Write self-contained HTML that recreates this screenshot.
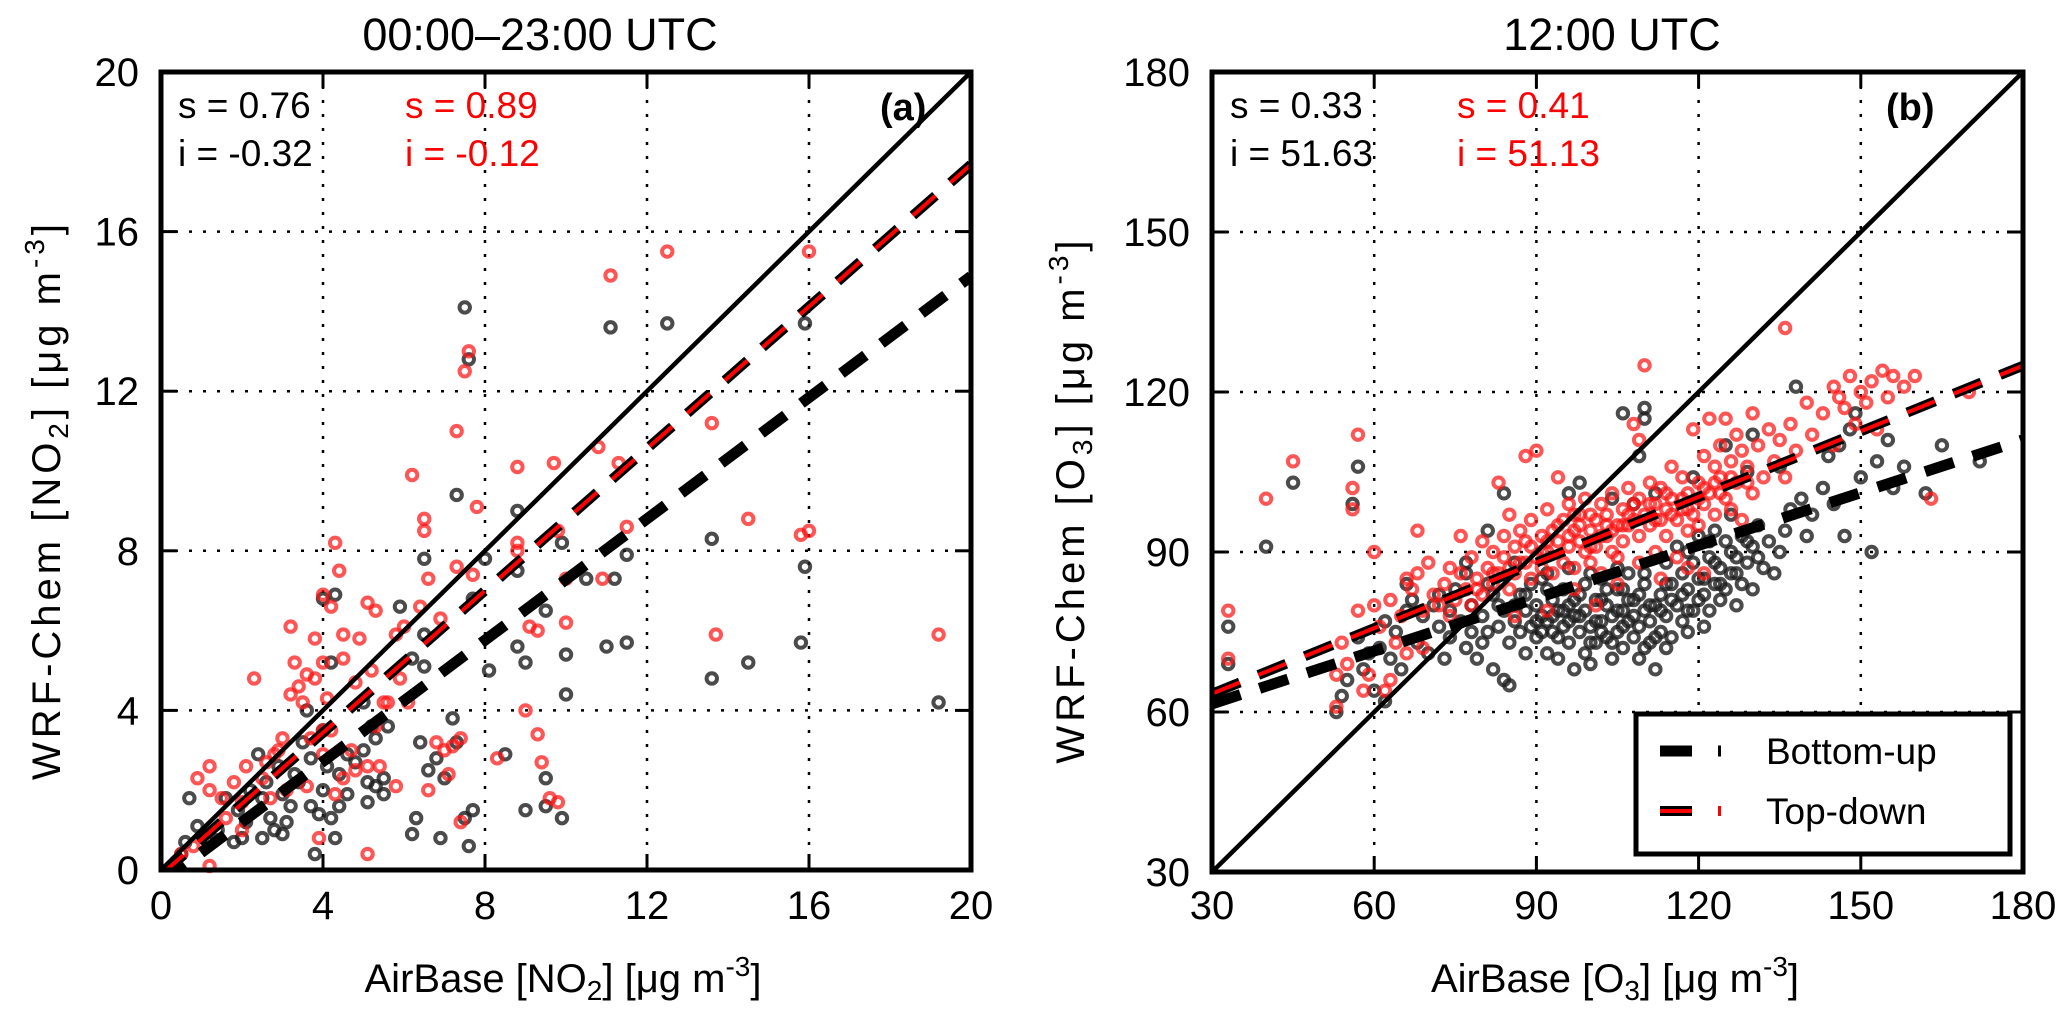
<!DOCTYPE html>
<html><head><meta charset="utf-8">
<style>
html,body{margin:0;padding:0;background:#fff;}
svg{display:block;font-family:"Liberation Sans",sans-serif;}
</style></head>
<body>
<svg id="chart" width="2067" height="1021" viewBox="0 0 2067 1021" xmlns="http://www.w3.org/2000/svg">
<defs>
<clipPath id="clipA"><rect x="161" y="72" width="810" height="798"/></clipPath>
<clipPath id="clipB"><rect x="1212" y="72" width="811" height="800"/></clipPath>
</defs>
<g id="panelA"></g>
<g id="panelB"></g>
</svg>
<script>
// ---- Panel (a) data: NO2 ----
const aTicks = [0, 4, 8, 12, 16, 20];
const aBottomUp = [[19.2,4.2],[15.9,7.6],[15.9,13.7],[15.8,5.7],[13.6,8.3],[13.6,4.8],[14.5,5.2],[12.5,13.7],[11.1,13.6],[11.5,7.9],[11.2,7.3],[11.5,5.7],[11.0,5.6],[10.5,7.3],[10.0,4.4],[10.0,5.4],[9.5,6.5],[9.9,8.2],[9.9,1.3],[9.5,2.3],[9.5,1.6],[9.0,1.5],[8.8,9.0],[8.8,7.5],[8.8,5.6],[9.0,5.2],[8.0,7.8],[8.1,5.0],[8.5,2.9],[7.6,12.8],[7.5,14.1],[7.3,9.4],[7.7,6.8],[7.7,1.5],[7.6,0.6],[7.5,1.3],[7.3,3.2],[7.2,3.8],[7.0,2.3],[6.9,0.8],[6.8,2.8],[6.6,2.5],[6.4,3.2],[6.5,7.8],[6.5,5.9],[6.5,5.1],[6.2,5.3],[6.3,1.3],[6.2,0.9],[5.9,6.6],[5.6,3.6],[5.5,2.3],[5.5,1.9],[5.3,2.1],[5.2,3.6],[5.1,2.2],[5.1,1.7],[5.0,4.2],[5.0,3.0],[4.8,2.7],[4.6,1.9],[4.4,2.4],[4.3,6.9],[4.2,5.2],[4.3,0.8],[4.2,1.3],[4.0,6.8],[4.0,3.5],[4.0,2.0],[3.9,1.4],[3.8,0.4],[3.7,2.8],[3.6,4.0],[3.5,3.2],[3.3,2.4],[3.2,1.6],[3.1,1.2],[3.0,0.9],[3.0,1.9],[2.9,2.6],[2.8,1.0],[2.7,1.3],[2.5,1.8],[2.5,0.8],[2.4,2.9],[2.2,2.0],[2.1,1.2],[2.0,0.8],[1.9,1.5],[1.8,0.7],[1.6,1.8],[1.4,1.0],[1.2,0.7],[0.9,1.1],[0.7,1.8],[0.6,0.7],[0.5,0.4],[4.6,2.9],[3.4,2.2],[2.6,2.2],[4.4,1.6],[5.3,3.3],[4.1,2.6],[3.7,1.6]];
const aTopDown = [[19.2,5.9],[16.0,15.5],[15.8,8.4],[16.0,8.5],[13.6,11.2],[13.7,5.9],[14.5,8.8],[12.5,15.5],[11.1,14.9],[11.3,10.2],[11.5,8.6],[10.9,7.3],[10.8,10.6],[10.0,6.2],[10.0,7.3],[9.8,8.5],[9.7,10.2],[9.8,1.7],[9.6,1.8],[9.4,2.7],[9.3,3.4],[9.0,4.0],[9.1,6.1],[9.3,6.0],[8.8,10.1],[8.8,8.2],[8.8,8.0],[8.3,2.8],[7.8,9.1],[7.7,7.4],[7.6,13.0],[7.5,12.5],[7.3,11.0],[7.3,7.6],[7.4,3.3],[7.2,3.1],[7.1,2.4],[7.0,3.0],[6.9,6.3],[6.6,7.3],[6.5,8.5],[6.5,8.8],[6.4,6.6],[6.2,9.9],[6.0,6.1],[5.8,5.9],[5.9,4.8],[5.6,4.2],[5.5,4.2],[5.4,2.6],[5.3,6.5],[5.1,6.7],[5.2,5.0],[4.9,5.8],[4.8,4.7],[4.5,5.9],[4.5,5.3],[4.4,7.5],[4.3,8.2],[4.2,6.6],[4.0,6.9],[4.0,5.2],[4.1,4.3],[4.0,3.5],[3.8,5.8],[3.8,4.8],[3.6,4.9],[3.4,4.6],[3.5,4.2],[3.3,5.2],[3.2,4.4],[3.2,6.1],[3.0,3.3],[2.8,2.9],[2.6,2.7],[2.5,2.3],[2.3,4.8],[2.1,2.6],[2.0,1.7],[1.8,2.2],[1.5,1.8],[1.2,2.0],[1.2,2.6],[0.9,2.3],[0.8,0.6],[0.5,0.4],[1.2,0.1],[5.1,0.4],[3.9,0.8],[4.8,2.5],[5.1,2.6],[4.5,2.3],[4.7,3.0],[3.1,2.0],[2.9,3.0],[3.7,3.3],[4.2,3.5],[6.1,4.2],[5.8,2.1],[6.6,2.0],[3.6,2.1],[2.7,1.8],[1.6,1.3],[2.0,1.0],[4.3,1.9],[6.8,3.2],[7.4,1.2],[5.3,3.6],[4.0,2.9]];
const aFitBottomUp = [0.76, -0.32];
const aFitTopDown = [0.89, -0.12];

// ---- Panel (b) data: O3 ----
const bTicks = [30, 60, 90, 120, 150, 180];
const bBottomUp = [[33,76],[33,69],[40,91],[45,103],[53,60],[54,63],[55,66],[56,99],[57,106],[57,74],[58,68],[59,71],[60,64],[61,72],[62,62],[62,77],[63,70],[64,75],[65,68],[66,79],[66,84],[67,81],[68,73],[69,78],[70,71],[71,80],[72,82],[72,76],[73,70],[74,74],[74,79],[75,83],[76,77],[77,72],[77,86],[78,80],[78,75],[79,70],[80,73],[80,78],[81,84],[81,75],[82,82],[82,68],[83,76],[83,80],[84,79],[84,66],[85,65],[85,73],[86,77],[86,88],[87,82],[87,75],[88,79],[88,71],[89,84],[89,76],[90,80],[90,74],[91,78],[91,85],[92,71],[92,77],[93,81],[93,75],[94,79],[94,70],[95,83],[95,76],[96,73],[96,80],[97,78],[97,68],[98,75],[98,82],[99,71],[99,79],[100,76],[100,69],[101,81],[101,73],[102,77],[102,85],[103,74],[103,80],[104,70],[104,78],[105,83],[105,75],[106,72],[106,79],[107,77],[107,86],[108,74],[108,81],[109,76],[109,70],[110,79],[110,84],[111,73],[111,77],[112,80],[112,68],[113,75],[113,82],[114,78],[114,88],[115,84],[115,74],[116,80],[116,91],[117,77],[117,86],[118,83],[118,75],[119,88],[119,79],[120,81],[120,93],[121,85],[121,76],[122,89],[122,79],[123,84],[123,94],[124,81],[124,87],[125,92],[125,83],[126,86],[126,97],[127,89],[127,80],[128,93],[128,84],[129,88],[130,91],[130,83],[131,95],[132,87],[133,92],[134,86],[135,90],[136,94],[137,98],[138,121],[139,100],[140,93],[141,97],[143,102],[144,108],[145,99],[146,110],[147,93],[148,113],[149,116],[150,104],[152,90],[153,107],[155,111],[156,102],[158,106],[162,101],[165,110],[172,107],[109,108],[110,117],[110,115],[106,116],[96,101],[98,103],[104,100],[108,99],[112,101],[84,101],[81,94],[77,88],[119,104],[125,110],[129,105],[130,112],[135,106],[88,82],[92,83],[95,79],[97,81],[99,84],[101,77],[103,83],[105,79],[107,81],[109,82],[111,80],[113,79],[115,81],[117,82],[120,85],[123,88],[126,90],[129,92],[91,75],[94,74],[96,77],[100,73],[102,75],[104,73],[106,76],[108,78],[110,72],[112,74],[114,72],[118,79],[121,82],[124,84],[127,86],[131,89],[86,80],[90,77],[93,78],[98,78],[102,81],[106,83],[110,86],[114,84],[118,90],[122,92],[105,87],[100,86],[96,87],[92,86]];
const bTopDown = [[33,79],[33,70],[40,100],[45,107],[53,61],[53,67],[54,73],[55,69],[56,98],[56,102],[57,112],[57,79],[58,64],[59,67],[60,80],[60,90],[61,76],[62,64],[63,81],[64,73],[65,78],[66,85],[66,71],[67,83],[68,94],[68,86],[69,79],[70,88],[71,82],[72,80],[73,84],[74,87],[74,78],[75,81],[76,93],[76,86],[77,83],[78,89],[78,80],[79,85],[80,92],[80,82],[81,87],[82,90],[82,84],[83,103],[83,86],[84,93],[84,89],[85,83],[85,97],[86,91],[86,86],[87,94],[87,88],[88,108],[88,92],[89,85],[89,96],[90,89],[90,109],[91,93],[91,87],[92,98],[92,90],[93,94],[93,86],[94,92],[94,104],[95,88],[95,96],[96,91],[96,99],[97,87],[97,94],[98,92],[98,97],[99,90],[99,100],[100,94],[100,88],[101,96],[101,91],[102,99],[102,86],[103,93],[103,97],[104,90],[104,101],[105,95],[105,89],[106,98],[106,92],[107,102],[107,95],[108,99],[108,114],[109,93],[109,111],[110,97],[110,125],[111,103],[111,95],[112,99],[112,90],[113,96],[113,102],[114,98],[114,93],[115,100],[115,106],[116,96],[116,89],[117,104],[117,98],[118,101],[118,94],[119,97],[119,113],[120,103],[120,95],[121,108],[121,99],[122,101],[122,115],[123,97],[123,106],[124,104],[124,110],[125,100],[125,115],[126,107],[126,98],[127,112],[127,103],[128,109],[128,96],[129,106],[130,101],[130,116],[131,110],[132,104],[133,113],[134,107],[135,111],[136,104],[136,132],[137,114],[138,109],[140,118],[141,112],[143,116],[145,121],[145,110],[146,119],[147,117],[148,123],[149,114],[150,120],[151,118],[152,122],[153,113],[154,124],[155,119],[156,123],[158,121],[160,123],[163,100],[170,120],[109,88],[105,84],[113,85],[118,87],[121,86],[97,83],[101,80],[92,79],[86,78],[63,66],[69,72],[88,88],[91,90],[94,95],[97,97],[100,97],[103,95],[106,95],[109,100],[112,96],[115,97],[118,98],[121,102],[124,101],[108,96],[104,94],[100,91],[96,93],[92,92],[89,91],[85,87],[82,86],[79,83],[111,99],[114,101],[117,100],[120,100],[123,103],[126,104],[129,103],[98,95],[102,93],[107,97]];
const bFitBottomUp = [0.33, 51.63];
const bFitTopDown = [0.41, 51.13];

const NS = "http://www.w3.org/2000/svg";
function mk(tag, attrs, parent) {
  const e = document.createElementNS(NS, tag);
  for (const k in attrs) e.setAttribute(k, attrs[k]);
  if (parent) parent.appendChild(e);
  return e;
}

function drawPanel(g, cfg) {
  const {x0, x1, y0, y1, min, max, ticks, clip, black, red, fitB, fitR} = cfg;
  const sx = v => x0 + (v - min) / (max - min) * (x1 - x0);
  const sy = v => y0 - (v - min) / (max - min) * (y0 - y1);

  ticks.slice(1, -1).forEach(t => {
    const gv = mk('line', {x1: sx(t), y1: y1, x2: sx(t), y2: y0, stroke: '#000', 'stroke-width': 2.5, 'stroke-dasharray': '3 11'}, g);
    
    
    const gh = mk('line', {x1: x0, y1: sy(t), x2: x1, y2: sy(t), stroke: '#000', 'stroke-width': 2.5, 'stroke-dasharray': '3 11'}, g);
    
    
  });

  const drawPts = (pts, color, name) => {
    const pg = mk('g', {}, g);
    
    
    pts.forEach(p => {
      const c = mk('circle', {cx: sx(p[0]), cy: sy(p[1]), r: 5.2, fill: 'none', stroke: color, 'stroke-width': 4}, pg);
      
      
    });
  };
  drawPts(black, 'rgba(30,30,30,0.8)', 'bottom-up-points');
  drawPts(red, 'rgba(255,20,20,0.72)', 'top-down-points');

  const lg = mk('g', {'clip-path': 'url(#' + clip + ')'}, g);
  
  
  const one = mk('line', {x1: sx(min), y1: sy(min), x2: sx(max), y2: sy(max), stroke: '#000', 'stroke-width': 4.5}, lg);
  
  
  const fl = (f, color, w, name) => {
    const l = mk('line', {x1: sx(min), y1: sy(f[0]*min + f[1]), x2: sx(max), y2: sy(f[0]*max + f[1]), stroke: color, 'stroke-width': w, 'stroke-dasharray': '30 20'}, lg);
    
    
  };
  fl(fitB, '#000', 11, 'bottom-up-fit-line');
  fl(fitR, '#000', 10, 'top-down-fit-line-outline');
  fl(fitR, '#ff0000', 4, 'top-down-fit-line');

  const fr = mk('rect', {x: x0, y: y1, width: x1 - x0, height: y0 - y1, fill: 'none', stroke: '#000', 'stroke-width': 5}, g);
  
  

  ticks.forEach((t, i) => {
    if (i > 0 && i < ticks.length - 1) {
      mk('line', {x1: sx(t), y1: y0, x2: sx(t), y2: y0 - 16, stroke: '#000', 'stroke-width': 3}, g);
      mk('line', {x1: sx(t), y1: y1, x2: sx(t), y2: y1 + 16, stroke: '#000', 'stroke-width': 3}, g);
      mk('line', {x1: x0, y1: sy(t), x2: x0 + 16, y2: sy(t), stroke: '#000', 'stroke-width': 3}, g);
      mk('line', {x1: x1, y1: sy(t), x2: x1 - 16, y2: sy(t), stroke: '#000', 'stroke-width': 3}, g);
    }
    const xl = mk('text', {x: sx(t), y: 919, 'text-anchor': 'middle', 'font-size': 40}, g);
    xl.textContent = t;
    
    
    const yl = mk('text', {x: x0 - 22, y: sy(t) + 14, 'text-anchor': 'end', 'font-size': 40}, g);
    yl.textContent = t;
    
    
  });
}

drawPanel(document.getElementById('panelA'), {x0: 161, x1: 971, y0: 870, y1: 72, min: 0, max: 20, ticks: aTicks, clip: 'clipA', black: aBottomUp, red: aTopDown, fitB: aFitBottomUp, fitR: aFitTopDown});
drawPanel(document.getElementById('panelB'), {x0: 1212, x1: 2023, y0: 872, y1: 72, min: 30, max: 180, ticks: bTicks, clip: 'clipB', black: bBottomUp, red: bTopDown, fitB: bFitBottomUp, fitR: bFitTopDown});
</script>
<script>
(function(){
const svg = document.getElementById('chart');
svg.insertAdjacentHTML('beforeend', `
<g font-family="Liberation Sans, sans-serif">
  <text x="540" y="50" font-size="45" text-anchor="middle">00:00–23:00 UTC</text>
  <text x="1612" y="50" font-size="45" text-anchor="middle">12:00 UTC</text>
  <text x="178" y="118" font-size="37">s = 0.76</text>
  <text x="178" y="166" font-size="37">i = -0.32</text>
  <text x="405" y="118" font-size="37" fill="#ff0000">s = 0.89</text>
  <text x="405" y="166" font-size="37" fill="#ff0000">i = -0.12</text>
  <text x="880" y="120" font-size="38" font-weight="bold">(a)</text>
  <text x="1230" y="118" font-size="37">s = 0.33</text>
  <text x="1230" y="166" font-size="37">i = 51.63</text>
  <text x="1457" y="118" font-size="37" fill="#ff0000">s = 0.41</text>
  <text x="1457" y="166" font-size="37" fill="#ff0000">i = 51.13</text>
  <text x="1886" y="120" font-size="38" font-weight="bold">(b)</text>
  <text x="563" y="992" font-size="40" text-anchor="middle">AirBase [NO<tspan font-size="28" dy="8">2</tspan><tspan dy="-8">] [μg m</tspan><tspan font-size="28" dy="-16">-3</tspan><tspan dy="16">]</tspan></text>
  <text x="1615" y="992" font-size="40" text-anchor="middle">AirBase [O<tspan font-size="28" dy="8">3</tspan><tspan dy="-8">] [μg m</tspan><tspan font-size="28" dy="-16">-3</tspan><tspan dy="16">]</tspan></text>
  <text transform="translate(60,500) rotate(-90)" font-size="40" text-anchor="middle" letter-spacing="4">WRF-Chem [NO<tspan font-size="28" dy="8">2</tspan><tspan dy="-8">] [μg m</tspan><tspan font-size="28" dy="-16">-3</tspan><tspan dy="16">]</tspan></text>
  <text transform="translate(1084,500) rotate(-90)" font-size="40" text-anchor="middle" letter-spacing="4">WRF-Chem [O<tspan font-size="28" dy="8">3</tspan><tspan dy="-8">] [μg m</tspan><tspan font-size="28" dy="-16">-3</tspan><tspan dy="16">]</tspan></text>
  <g>
    <rect x="1636" y="714" width="374" height="140" fill="#fff" stroke="#000" stroke-width="5"/>
    <g>
      <line x1="1660" y1="751" x2="1692" y2="751" stroke="#000" stroke-width="11"/>
      <line x1="1718" y1="751" x2="1721" y2="751" stroke="#000" stroke-width="11"/>
      <text x="1766" y="764" font-size="37">Bottom-up</text>
    </g>
    <g>
      <line x1="1660" y1="811" x2="1692" y2="811" stroke="#000" stroke-width="10"/>
      <line x1="1660" y1="811" x2="1692" y2="811" stroke="#ff0000" stroke-width="4"/>
      <line x1="1718" y1="811" x2="1721" y2="811" stroke="#ff0000" stroke-width="10"/>
      <text x="1766" y="824" font-size="37">Top-down</text>
    </g>
  </g>
</g>`);
})();
</script>
</body></html>
